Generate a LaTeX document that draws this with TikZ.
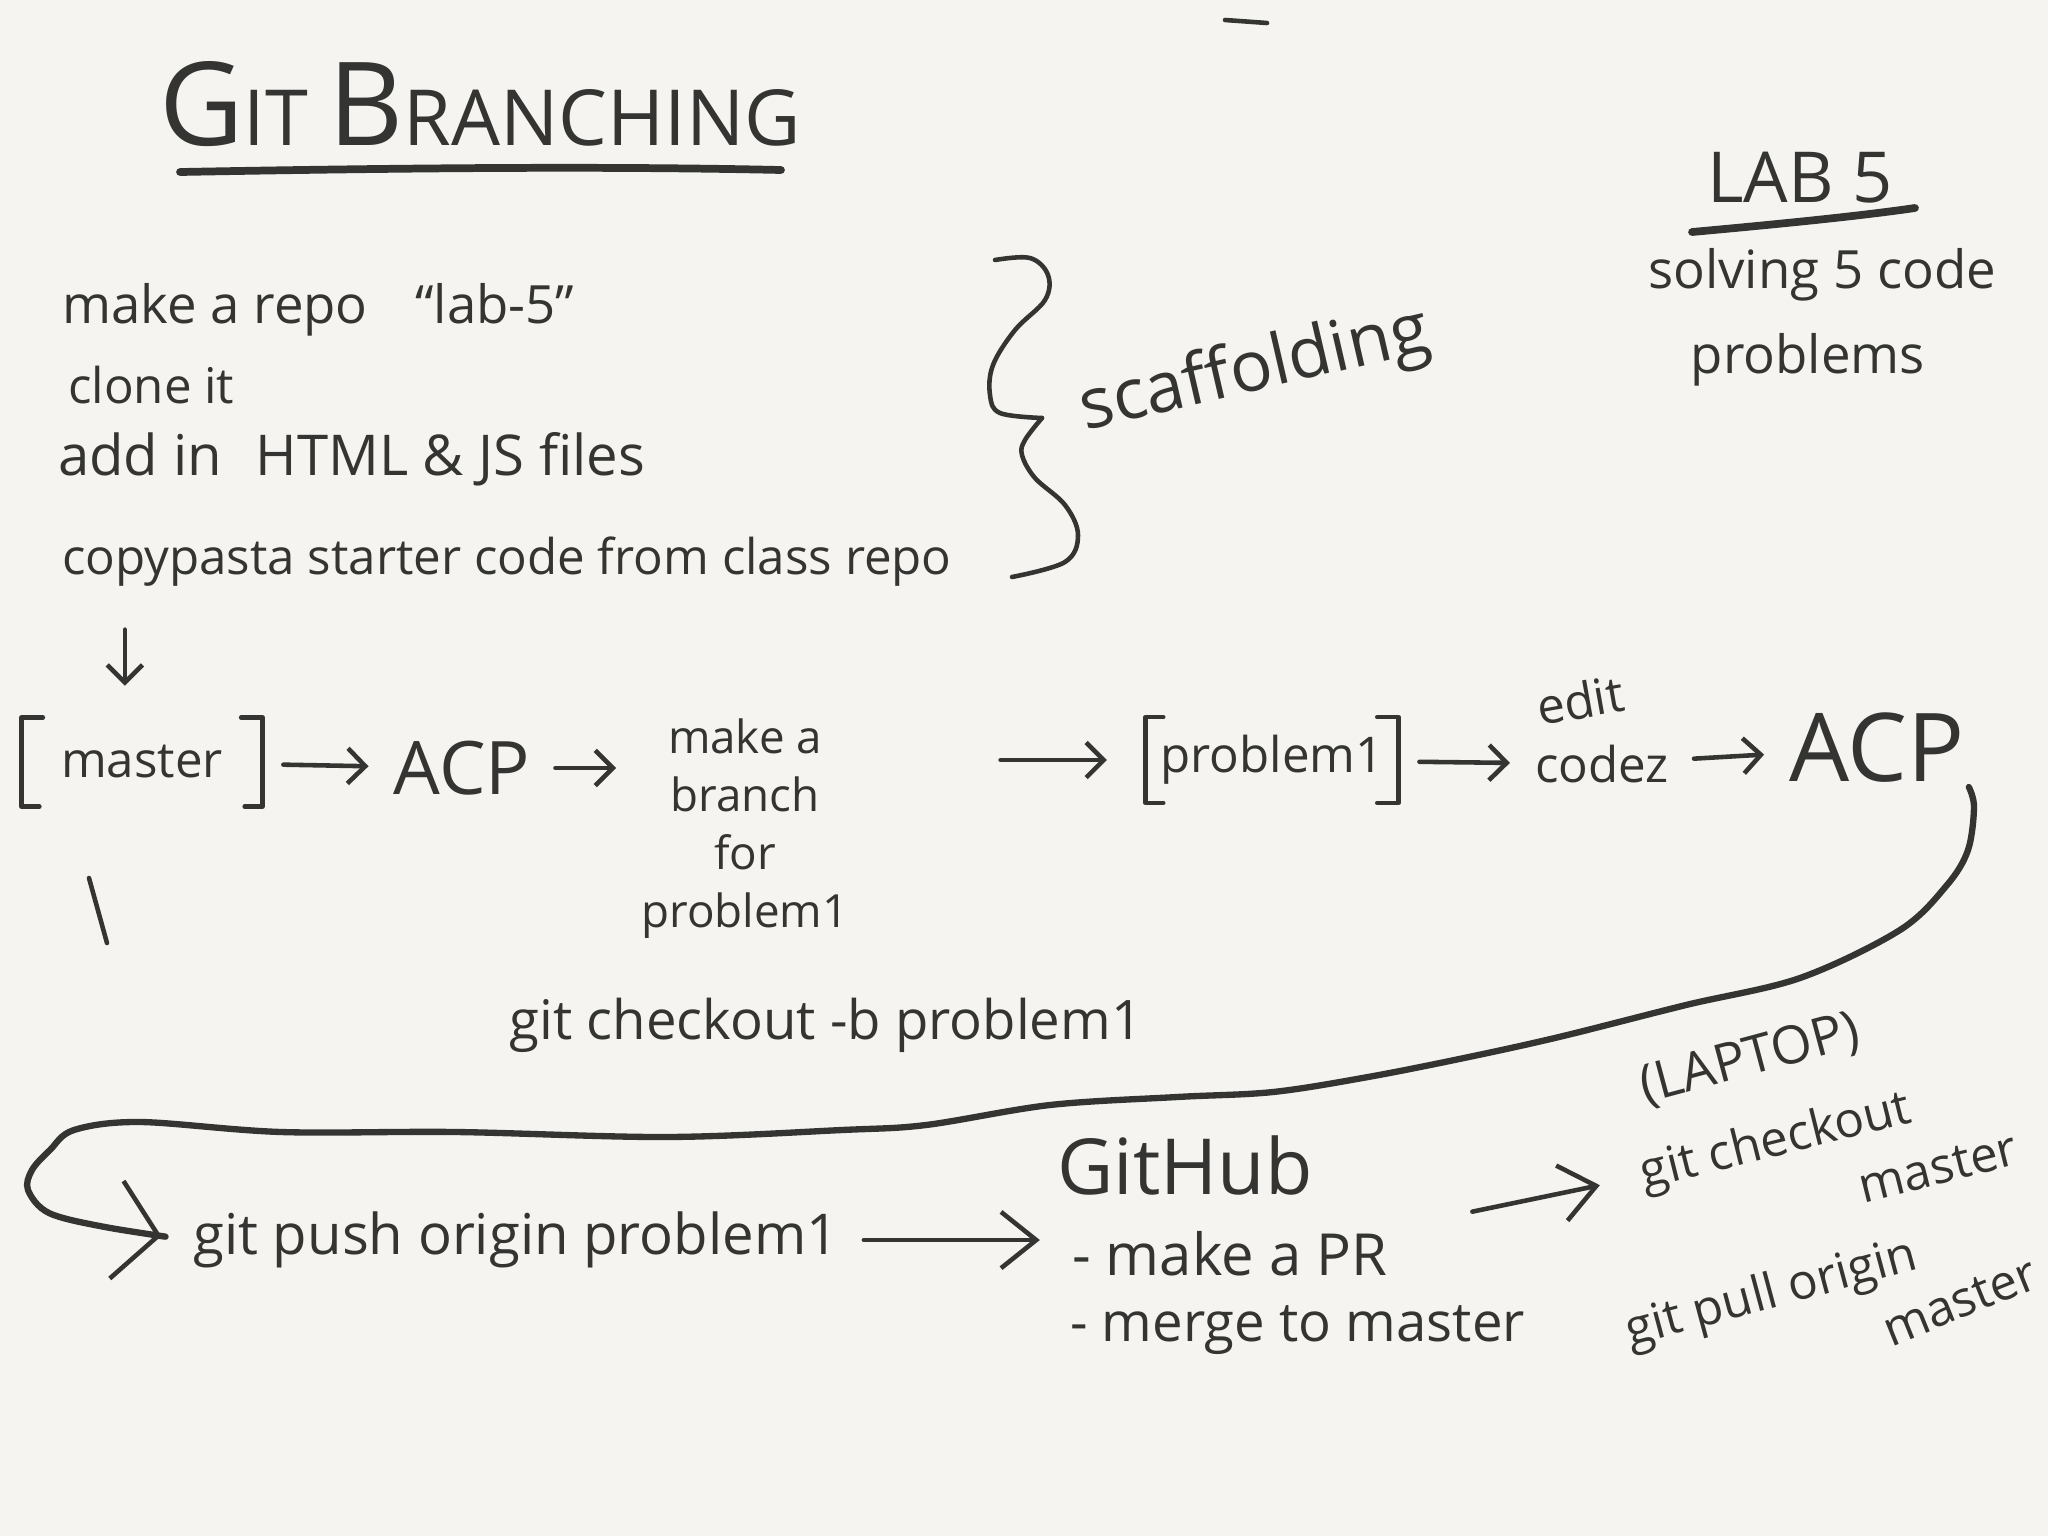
\documentclass[tikz,border=0pt]{standalone}
\usepackage{fontspec}
\setmainfont{Open Sans}
\usetikzlibrary{arrows.meta, positioning, calc}
\definecolor{paperWhite}{RGB}{245,244,240}
\definecolor{inkGrey}{RGB}{52,52,50}
\tikzset{
    % Handwriting Styles
    scrawl/.style={text=inkGrey, inner sep=1pt, font=\fontsize{14}{17}\selectfont},
    listItem/.style={scrawl, anchor=west},
    tilted/.style={scrawl, inner sep=0pt},
    % Pen Styles
    pen/.style={draw=inkGrey, line width=1.3pt, line cap=round, line join=round},
    marker/.style={draw=inkGrey, line width=2.2pt, line cap=round, line join=round},
    loopLine/.style={draw=inkGrey, line width=1.8pt, line cap=round, line join=round},
    % Arrow Styles
    arrow/.style={pen, -{Straight Barb[length=5pt, width=10pt]}, shorten <=6pt, shorten >=6pt},
    bigArrow/.style={pen, -{Straight Barb[length=10pt, width=16pt]}, shorten <=6pt, shorten >=8pt}
}

\begin{document}
\begin{tikzpicture}[x=0.01cm, y=-0.01cm]

    \fill [paperWhite] (0,0) rectangle (2048,1536);
    \useasboundingbox (0,0) rectangle (2048,1536);

    % --- TITLE ---
    \node (title) [scrawl, font=\fontsize{22}{26}\selectfont] at (480,104)
        {{\fontsize{33}{33}\selectfont G}IT {\fontsize{33}{33}\selectfont B}RANCHING};
    \draw [marker] (180,172) .. controls (400,168) and (600,166) .. (781,170);
    \draw [pen] (1225,20) -- (1267,23);

    % --- LAB INFO ---
    \node (lab) [scrawl, font=\fontsize{20}{24}\selectfont] at (1800,178) {LAB 5};
    \draw [marker] (1692,232) .. controls (1780,224) and (1860,216) .. (1915,208);
    \node (solving) [scrawl, font=\fontsize{15}{18}\selectfont] at (1822,275) {solving 5 code};
    \node (problems) [scrawl, font=\fontsize{15}{18}\selectfont] at (1808,360) {problems};

    % --- SCAFFOLDING STEPS ---
    \node (mkrepo) [listItem, font=\fontsize{15}{18}\selectfont] at (58,310) {make a repo\hspace{0.9em}“lab-5”};
    \node (clone) [listItem] at (64,385) {clone it};
    \node (addfiles) [listItem, font=\fontsize{16}{19}\selectfont] at (54,459) {add in\hspace{0.6em}HTML \& JS files};
    \node (copypasta) [listItem] at (58,562) {copypasta starter code from class repo};

    % brace
    \draw [pen] plot [smooth, tension=0.6] coordinates {(995,260) (1030,258) (1048,275) (1045,300) (1015,330) (993,365) (990,395) (1000,413) (1042,418)};
    \draw [pen] plot [smooth, tension=0.6] coordinates {(1042,418) (1025,440) (1022,455) (1035,478) (1065,505) (1078,535) (1065,562) (1012,577)};
    \node (scaffold) [scrawl, font=\fontsize{20}{24}\selectfont, rotate=13] at (1255,372) {scaffolding};

    % --- BRANCH ROW ---
    \node (master) [scrawl, minimum height=25pt, inner xsep=11pt] at (142,762) {master};
    \draw [pen] ([xshift=6pt]master.north west) -- (master.north west) -- (master.south west) -- ([xshift=5pt]master.south west);
    \draw [pen] ([xshift=-6pt]master.north east) -- (master.north east) -- (master.south east) -- ([xshift=-5pt]master.south east);
    \draw [arrow, shorten <=11pt, shorten >=9pt] ([xshift=19pt]copypasta.south west) -- ([xshift=19pt]copypasta.south west |- master.north);

    \node (acp1) [scrawl, font=\fontsize{21}{25}\selectfont] at (462,768) {ACP};
    \draw [arrow] (master) -- (acp1);

    \node (branch) [scrawl, font=\fontsize{13}{16.5}\selectfont, align=center] at (745,829) {make a\\branch\\for\\problem1};
    \draw [arrow] (acp1.east) -- (acp1.east -| branch.west);

    \node (prob) [scrawl, minimum height=24pt, inner xsep=4pt] at (1272,760) {problem1};
    \draw [pen] ([xshift=5pt]prob.north west) -- (prob.north west) -- (prob.south west) -- ([xshift=5pt]prob.south west);
    \draw [pen] ([xshift=-6pt]prob.north east) -- (prob.north east) -- (prob.south east) -- ([xshift=-6pt]prob.south east);
    \draw [arrow, shorten <=42pt, shorten >=11pt] (branch.east |- prob.west) -- (prob.west);

    \node (edit) [scrawl, rotate=10] at (1580,700) {edit};
    \node (codez) [scrawl] at (1602,764) {codez};
    \draw [arrow] (prob) -- (codez);

    \node (acp2) [scrawl, font=\fontsize{27}{32}\selectfont] at (1877,748) {ACP};
    \draw [arrow] (codez) -- (acp2);

    \draw [pen] (89,878) -- (107,943);

    \node (checkoutb) [scrawl, font=\fontsize{15.5}{18}\selectfont] at (826,1025) {git checkout -b problem1};

    % --- PUSH & MERGE ---
    \node (push) [scrawl, font=\fontsize{16}{19}\selectfont] at (516,1240) {git push origin problem1};
    \draw [loopLine, shorten >=8pt, -{Straight Barb[length=12pt, width=28pt, line width=1.3pt]}]
        plot [smooth, tension=0.55] coordinates {(acp2.south east) (1974,807) (1968,850) (1947,885) (1900,930) (1800,978) (1686,1005) (1559,1037) (1464,1058) (1368,1077) (1273,1092) (1177,1097) (1050,1105) (926,1125) (842,1130) (667,1137) (456,1132) (281,1132) (140,1122) (74,1130) (50,1150) (32,1170) (28,1190) (49,1213) (105,1227) (push.west)};

    \node (github) [scrawl, font=\fontsize{22}{26}\selectfont] at (1185,1165) {GitHub};
    \node (makepr) [scrawl, font=\fontsize{16.5}{19}\selectfont, anchor=west] at (1068,1254) {- make a PR};
    \node (merge) [scrawl, font=\fontsize{15.5}{18}\selectfont, anchor=west] at (1066,1330) {- merge to master};
    \draw [bigArrow] (push.east) -- (push.east -| makepr.west);

    % --- LAPTOP SIDE ---
    \node (laptop) [tilted, rotate=15, font=\fontsize{15}{18}\selectfont] at (1750,1060) {(LAPTOP)};
    \node (gcheckout) [tilted, rotate=14] at (1776,1143) {git checkout};
    \node (gmaster1) [tilted, rotate=14] at (1938,1168) {master};
    \node (gpull) [tilted, rotate=15] at (1772,1295) {git pull origin};
    \node (gmaster2) [tilted, rotate=22] at (1960,1302) {master};
    \draw [bigArrow, shorten <=0pt, shorten >=12pt] ([shift={(23pt,4.5pt)}]makepr.north east) -- (gcheckout.west);

\end{tikzpicture}
\end{document}
